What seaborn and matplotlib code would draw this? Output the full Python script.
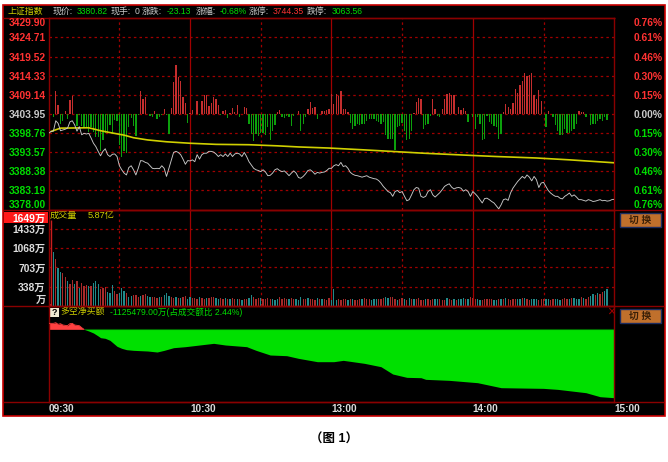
import numpy as np
import matplotlib
matplotlib.use('Agg')
import matplotlib.pyplot as plt
from matplotlib.patches import Rectangle
import seaborn as sns

# price panel
price_ticks = [3429.90, 3424.71, 3419.52, 3414.33, 3409.14, 3403.95, 3398.76, 3393.57, 3388.38, 3383.19, 3378.00]
pct_labels = ['0.76%', '0.61%', '0.46%', '0.30%', '0.15%', '0.00%', '0.15%', '0.30%', '0.46%', '0.61%', '0.76%']
base_price = 3403.95

price = [3398.7, 3399.2, 3399.3, 3402.1, 3401.4, 3399.4, 3399.6, 3399.8, 3400.1, 3401.8, 3402.1, 3401.0, 3399.3, 3400.5, 3398.3, 3398.7,
         3398.5, 3398.7, 3397.4, 3396.0, 3395.1, 3393.8, 3392.6, 3393.8, 3394.5, 3392.9, 3392.4, 3393.0, 3393.1, 3392.4, 3389.9, 3388.8,
         3387.9, 3387.4, 3389.4, 3389.9, 3388.8, 3387.4, 3389.2, 3391.3, 3391.2, 3390.8, 3390.6, 3389.9, 3389.2, 3389.1, 3389.2, 3389.1,
         3389.9, 3389.2, 3387.0, 3389.2, 3391.5, 3393.5, 3393.8, 3393.5, 3392.9, 3391.7, 3390.3, 3391.3, 3391.2, 3391.5, 3391.0, 3392.9,
         3391.7, 3392.9, 3393.3, 3393.3, 3393.8, 3393.8, 3393.6, 3393.1, 3392.4, 3392.9, 3392.4, 3393.1, 3392.4, 3393.3, 3392.4, 3393.1,
         3393.3, 3393.1, 3392.4, 3393.5, 3392.4, 3391.0, 3390.1, 3389.2, 3388.8, 3388.6, 3388.3, 3388.8, 3388.2, 3387.2, 3387.3, 3387.9,
         3388.8, 3389.1, 3388.6, 3388.3, 3388.5, 3387.9, 3387.2, 3387.9, 3388.5, 3387.9, 3386.7, 3386.5, 3387.0, 3387.7, 3388.6, 3388.8,
         3388.3, 3387.6, 3388.1, 3387.9, 3388.1, 3388.2, 3388.6, 3389.2, 3389.2, 3389.9, 3390.2, 3389.9, 3390.8, 3389.7, 3389.9, 3389.2,
         3388.1, 3387.6, 3387.3, 3387.2, 3387.0, 3386.8, 3387.0, 3387.2, 3386.8, 3386.6, 3386.4, 3386.3, 3385.9, 3385.2, 3384.3, 3383.6,
         3382.9, 3382.6, 3381.6, 3382.9, 3383.2, 3382.6, 3382.9, 3381.6, 3380.4, 3380.7, 3382.0, 3383.4, 3384.0, 3383.8, 3381.6, 3381.3,
         3381.6, 3382.9, 3383.4, 3382.0, 3381.4, 3382.0, 3382.6, 3383.4, 3384.3, 3384.7, 3385.0, 3384.1, 3383.6, 3383.9, 3384.0, 3383.8,
         3383.0, 3383.4, 3382.9, 3381.6, 3382.9, 3382.3, 3381.6, 3380.7, 3379.8, 3381.0, 3381.1, 3380.7, 3380.2, 3379.8, 3379.0, 3378.2,
         3379.3, 3380.7, 3380.9, 3380.5, 3382.5, 3383.8, 3384.7, 3385.6, 3386.3, 3387.0, 3386.5, 3387.4, 3386.8, 3385.8, 3387.0, 3386.1,
         3384.0, 3385.2, 3385.4, 3384.3, 3383.2, 3382.5, 3382.0, 3381.6, 3381.6, 3381.1, 3380.9, 3381.6, 3382.0, 3382.5, 3381.6, 3382.0,
         3381.4, 3380.7, 3380.7, 3380.5, 3380.3, 3380.7, 3380.5, 3380.2, 3380.3, 3380.5, 3380.7, 3380.4, 3380.5, 3380.3, 3380.4, 3380.7, 3380.8]

avg_minute = [1, 5, 17, 22, 26, 32, 36, 42, 50, 60, 71, 85, 97, 106, 119, 134, 148, 159, 176, 190, 207, 221, 240]
avg_price = [3399.2, 3400.1, 3400.2, 3399.4, 3398.9, 3398.2, 3397.5, 3396.9, 3396.4, 3396.0, 3395.7, 3395.6, 3395.3, 3395.0, 3394.7,
             3394.2, 3393.7, 3393.3, 3392.8, 3392.4, 3392.0, 3391.5, 3390.7]

# red / green strength bars, in index points round the base price
strength = [0, 0, -0.9, 6.1, 2.4, -2.7, -1.8, 0.7, -1.3, 3.8, 5.0, 0, -3.4, -0.3, -3.4, -3.6, -3.8, -5.0, -3.6, -5.0, -6.3, -6.3, -10.1, -7.2,
            -5.2, -5.0, -2.9, -5.4, -1.6, -1.8, -8.3, -11.7, -10.1, -10.6, -3.6, -1.1, -3.4, -6.1, -0.4, 6.1, 4.1, 4.5, 0, -0.5, -0.7, 0.9,
            -1.3, -0.9, -0.3, 1.3, -0.3, -5.4, 1.6, 8.6, 13.2, 10.1, 9.0, 4.7, 2.9, -2.5, 0.3, 1.1, 0, 3.6, -0.4, 3.6, 5.2, 5.1, 2.2, 2.9, 4.7,
            4.1, 2.3, -0.3, 0.7, 1.1, -1.1, 0.3, 1.6, 0.5, 2.3, -0.9, 0, 1.8, 1.6, -2.7, -5.4, -7.4, -5.4, -6.1, -5.2, -5.2, -5.6, -3.6, -7.2,
            -4.5, -2.9, 0.5, 1.1, -0.7, -1.1, -0.5, -0.9, -3.4, -0.5, 0, 0.7, -4.5, -2.7, -0.7, 1.3, 3.2, 1.6, 2.0, -1.3, 0, 0.7, 0.7, 1.1, 1.3,
            5.4, 2.7, 5.4, 5.0, 6.1, 1.4, 1.4, 0.5, -2.5, -4.0, -3.2, -2.7, -2.9, -2.7, -2.7, -2.0, -1.3, -1.4, -1.4, -1.8, -2.3, -2.7, -2.2,
            -5.8, -6.9, -6.9, -6.9, -9.9, -3.6, -3.2, -2.5, -4.5, -7.0, -6.9, -4.5, 0.3, 3.2, 4.3, 4.0, -4.0, -3.1, -2.7, -0.5, 4.1, 1.4, -0.5,
            -0.7, 1.4, 4.0, 5.4, 5.6, 5.2, 5.2, 0, 1.8, 1.1, 1.6, 0.9, -2.2, 0, -0.7, -4.1, -0.7, -2.7, -7.0, -6.7, -0.5, -2.3, -2.7, -3.2, -3.6,
            -6.7, -5.4, 0.5, 2.7, 2.0, 1.4, 2.9, 6.9, 5.6, 7.9, 9.0, 11.0, 10.3, 10.5, 11.0, 5.2, 4.0, 6.5, 3.6, 0, -3.6, 0.9, 0, -0.7, -3.1,
            -4.5, -5.6, -5.8, -4.0, -5.2, -5.2, -4.5, -4.0, -2.7, 0.7, 0.5, 0.5, -0.7, 0, -2.9, -2.7, -2.7, -2.0, -1.4, -2.0, -0.7, -1.6, 0, 0, 0]

# volume panel
vol_ticks = [1649, 1433, 1068, 703, 338, 0]
vol_labels = ['1649万', '1433万', '1068万', '703万', '338万', '万']
vol_grid = [338, 703, 1068, 1433]
volume = [465, 0, 1005, 859, 700, 618, 605, 529, 446, 383, 459, 383, 446, 319, 402, 351, 364, 351, 351, 402, 446, 383, 300, 319, 338, 237, 224, 370, 256, 199,
          211, 319, 256, 224, 148, 160, 186, 173, 148, 160, 173, 199, 160, 148, 148, 135, 122, 135, 148, 173, 224, 160, 148, 129, 135, 122, 129, 148, 160, 110,
          148, 129, 122, 110, 135, 122, 110, 129, 122, 135, 148, 122, 110, 129, 110, 122, 97, 110, 122, 97, 110, 110, 84, 110, 97, 122, 173, 135, 110, 122,
          129, 110, 97, 122, 110, 97, 84, 110, 135, 110, 122, 110, 97, 122, 97, 110, 84, 148, 110, 97, 122, 97, 110, 84, 122, 110, 97, 110, 84, 122, 84,
          288, 84, 97, 84, 97, 97, 84, 110, 97, 84, 84, 97, 110, 122, 97, 110, 84, 97, 97, 110, 97, 122, 148, 122, 135, 148, 97, 84, 110, 122, 97, 84, 129, 110,
          97, 97, 122, 84, 84, 97, 110, 84, 97, 110, 97, 97, 84, 84, 129, 97, 84, 97, 84, 110, 97, 122, 110, 97, 148, 122, 97, 110, 84, 84, 97, 110, 110, 97, 84,
          84, 110, 97, 110, 122, 110, 84, 110, 97, 97, 110, 122, 122, 97, 84, 110, 97, 110, 84, 97, 97, 110, 97, 84, 110, 97, 97, 84, 110, 122, 97, 110, 129, 122, 110, 110, 148, 129, 110, 148, 160, 199,
          186, 224, 199, 237, 256, 288]
vol_side = ('trtrttrrtrrtrtrrrtrtttrrrtttrrtttrttrrrtrrttrrrtrtttrrtrtrrttrrrtrrtrrrttrrtrtrrtrtrrttrrrtrrrrtttrrrrtrrtttrrtrrrtrtr'
            'rrtttrrrrtrtrrrtrrrtttrrrttrrrtrrtrtrtrrrrtrrrttrrrtrrtrtttrtrrrttrrrrrttrtrtrrrrttrtrrtttrrrttrrtttrrrtrtttrtrrttrtrrttrttt')

# net buying panel, 万
net_minute = [0, 2, 3, 4, 5, 6, 8, 9, 10, 11, 13, 14, 15, 17, 19, 21, 22, 24, 26, 27, 29, 31, 33, 36, 42, 46, 49, 53, 58, 64, 70, 75, 84, 88, 94,
              101, 106, 114, 121, 125, 134, 141, 146, 152, 158, 160, 170, 182, 192, 210, 216, 228, 234, 240]
net_buy = [98820, 98820, 109800, 82350, 93330, 71370, 60390, 93330, 98820, 71370, 60390, 27450, 0, -27450, -60390, -109800, -137250, -148230,
           -181170, -214110, -279990, -312930, -334890, -345870, -356850, -373320, -345870, -301950, -285480, -258030, -230580, -258030, -285480,
           -345870, -422730, -433710, -477630, -532530, -532530, -510570, -559980, -614880, -735660, -790560, -796050, -823500, -839970, -878400,
           -960750, -971730, -988200, -1043100, -1108980, -1125479]

time_ticks = [0, 60, 120, 180, 240]
time_labels = ['09:30', '10:30', '13:00', '14:00', '15:00']
solid_minutes = [60, 120, 180]
dash_minutes = [30, 90, 150, 210]

W, H = 668, 462
FONT = ['Liberation Sans', 'Noto Sans CJK SC']
FRAME = '#8a0000'
GRID = '#a00000'
RED = '#ff3232'
GREEN = '#00dc00'
GRAY = '#c8c8c8'
YELLOW = '#d0d000'

sns.set_theme(style='dark', rc={'axes.grid': False, 'axes.facecolor': 'none'})
plt.rcParams['font.family'] = FONT
plt.rcParams['font.weight'] = 'bold'

fig = plt.figure(figsize=(W / 100, H / 100), dpi=100, facecolor='white')

# everything that is not a data mark lives on this pixel sized layer
deco = fig.add_axes([0, 0, 1, 1], zorder=0)
deco.set_xlim(0, W)
deco.set_ylim(H, 0)
deco.axis('off')
deco.add_patch(Rectangle((2.5, 4.5), 662, 411, fc='black', ec='#c80000', lw=1.2))


def panel(top, bottom, left=48.7, right=614.2):
    ax = fig.add_axes([left / W, 1 - bottom / H, (right - left) / W, (bottom - top) / H], zorder=2)
    ax.set_facecolor('none')
    ax.set_xlim(0, 240)
    ax.set_xticks([])
    ax.tick_params(length=0, pad=2)
    for s in ax.spines.values():
        s.set_color(FRAME)
        s.set_linewidth(1)
    return ax


def minute_grid(ax):
    ax.vlines(solid_minutes, *ax.get_ylim(), color=GRID, lw=0.9, zorder=1)
    ax.vlines(dash_minutes, *ax.get_ylim(), color=GRID, lw=0.9, linestyles=(0, (2, 2.5)), zorder=1)


# price panel
ax1 = panel(18.3, 209.6)
ax1.set_ylim(3378.0, 3429.9)
ax1.hlines(price_ticks[1:-1], 0, 240, color=GRID, lw=0.9, linestyles=(0, (2, 2.5)), zorder=1)
minute_grid(ax1)
for m, s in enumerate(strength):
    if s != 0:
        ax1.bar(m, s, bottom=base_price, width=0.55, color='#c42e2e' if s > 0 else '#0ca00c', lw=0, zorder=2)
sns.lineplot(x=avg_minute, y=avg_price, color=YELLOW, lw=1.2, ax=ax1, zorder=3)
sns.lineplot(x=np.arange(len(price)), y=price, color='#c8c8c8', lw=0.65, ax=ax1, zorder=4)
ax1.set_yticks(price_ticks)
ax1.set_yticklabels(['%.2f' % p for p in price_ticks], fontsize=7.4)
for t, p in zip(ax1.get_yticklabels(), price_ticks):
    t.set_color(RED if p > base_price else GREEN if p < base_price else GRAY)
ax1.get_yticklabels()[0].set_va('top')
ax1.get_yticklabels()[-1].set_va('bottom')

ax1r = ax1.twinx()
ax1r.set_facecolor('none')
ax1r.set_ylim(3378.0, 3429.9)
ax1r.set_yticks(price_ticks)
ax1r.set_yticklabels(pct_labels, fontsize=7.4, ha='right')
ax1r.tick_params(length=0, pad=35)
for s in ax1r.spines.values():
    s.set_visible(False)
for t, p in zip(ax1r.get_yticklabels(), price_ticks):
    t.set_color(RED if p > base_price else GREEN if p < base_price else GRAY)
ax1r.get_yticklabels()[0].set_va('top')
ax1r.get_yticklabels()[-1].set_va('bottom')
ax1.set_xlabel('')
ax1.set_ylabel('')

# volume panel
VOL_FLOOR = -30
ax2 = panel(209.6, 306)
ax2.set_ylim(VOL_FLOOR, 1805)
ax2.hlines(vol_grid, 0, 240, color=GRID, lw=0.9, linestyles=(0, (2, 2.5)), zorder=1)
minute_grid(ax2)
for m, (v, side) in enumerate(zip(volume, vol_side)):
    ax2.bar(m, v - VOL_FLOOR, bottom=VOL_FLOOR, width=0.55, color='#a82a2a' if side == 'r' else '#218a8a', lw=0, zorder=2)
ax2.vlines(0.8, VOL_FLOOR, 1600, color='#c81e1e', lw=1, zorder=3)
ax2.set_yticks(vol_ticks)
ax2.set_yticklabels(vol_labels, fontsize=7.4, color='#dcdcdc')
ax2.get_yticklabels()[-1].set_va('bottom')
ax2.tick_params(axis='y', pad=2.2)
deco.add_patch(Rectangle((3.5, 212), 44, 10.5, fc='#ff1a1a', ec='none'))
ax2.get_yticklabels()[0].set_color('white')

# net buying panel
ax3 = panel(306, 401.7)
ax3.set_ylim(-1191330, 384300)
ax3.fill_between(net_minute, net_buy, 0, where=np.array(net_buy) >= 0, color='#ff4040', lw=0, interpolate=True, zorder=2)
ax3.fill_between(net_minute, net_buy, 0, where=np.array(net_buy) <= 0, color='#00e000', lw=0, interpolate=True, zorder=2)
ax3.hlines(0, 15, 240, color='#006400', lw=0.8, zorder=3)
sns.lineplot(x=net_minute[:13], y=net_buy[:13], color='#ff4040', lw=0.6, ax=ax3, zorder=3)
ax3.set_yticks([])
ax3.set_xticks(time_ticks)
ax3.set_xticklabels(time_labels, fontsize=7.2, ha='left', color='#dcdcdc')
ax3.tick_params(axis='x', pad=1.5)

# frame lines outside of the panels
deco.hlines([209.6, 306, 401.7], 3, 664, color=FRAME, lw=1)
deco.hlines(18.3, 3, 615, color=FRAME, lw=1)

# header row
head = [(8, '上证指数', YELLOW, 6.4), (53, '现价:', GRAY, 6.4), (77, '3380.82', GREEN, 6.2), (111, '现手:', GRAY, 6.4), (135, '0', GRAY, 6.2),
        (142, '涨跌:', GRAY, 6.4), (167, '-23.13', GREEN, 6.2), (196, '涨幅:', GRAY, 6.4), (220, '-0.68%', GREEN, 6.2), (249, '涨停:', GRAY, 6.4),
        (273, '3744.35', RED, 6.2), (307, '跌停:', GRAY, 6.4), (332, '3063.56', GREEN, 6.2)]
for x, s, c, fs in head:
    deco.text(x, 11.5, s, color=c, fontsize=fs, va='center', ha='left', fontweight='normal')

deco.text(50, 215.7, '成交量', color=YELLOW, fontsize=6.6, va='center', fontweight='normal')
deco.text(88, 215.7, '5.87亿', color=YELLOW, fontsize=6.6, va='center', fontweight='normal')

deco.add_patch(Rectangle((49.5, 308.3), 9, 8.5, fc='#f0ead2', ec='none'))
deco.text(54, 312.6, '?', color='black', fontsize=6.5, ha='center', va='center')
deco.text(60, 312.3, '多空净买额', color=YELLOW, fontsize=6.4, va='center', fontweight='normal')
deco.text(110.5, 312, '-1125479.00万(占成交额比 2.44%)', color=GREEN, fontsize=6.2, va='center', fontweight='normal')
deco.text(611, 311.7, '×', color='#a00000', fontsize=10, ha='center', va='center', fontweight='normal')

# the two switch buttons
for y in [213.3, 309.3]:
    deco.add_patch(Rectangle((619.5, y), 41.5, 14, fc='#c0702c', ec='#1c2c60', lw=1))
    deco.text(640, y + 7, '切 换', color='#3a2008', fontsize=7, ha='center', va='center')

deco.text(334, 440, '（图 1）', color='black', fontsize=9, ha='center', va='center')

fig.savefig('out.png', dpi=100, facecolor='white')
